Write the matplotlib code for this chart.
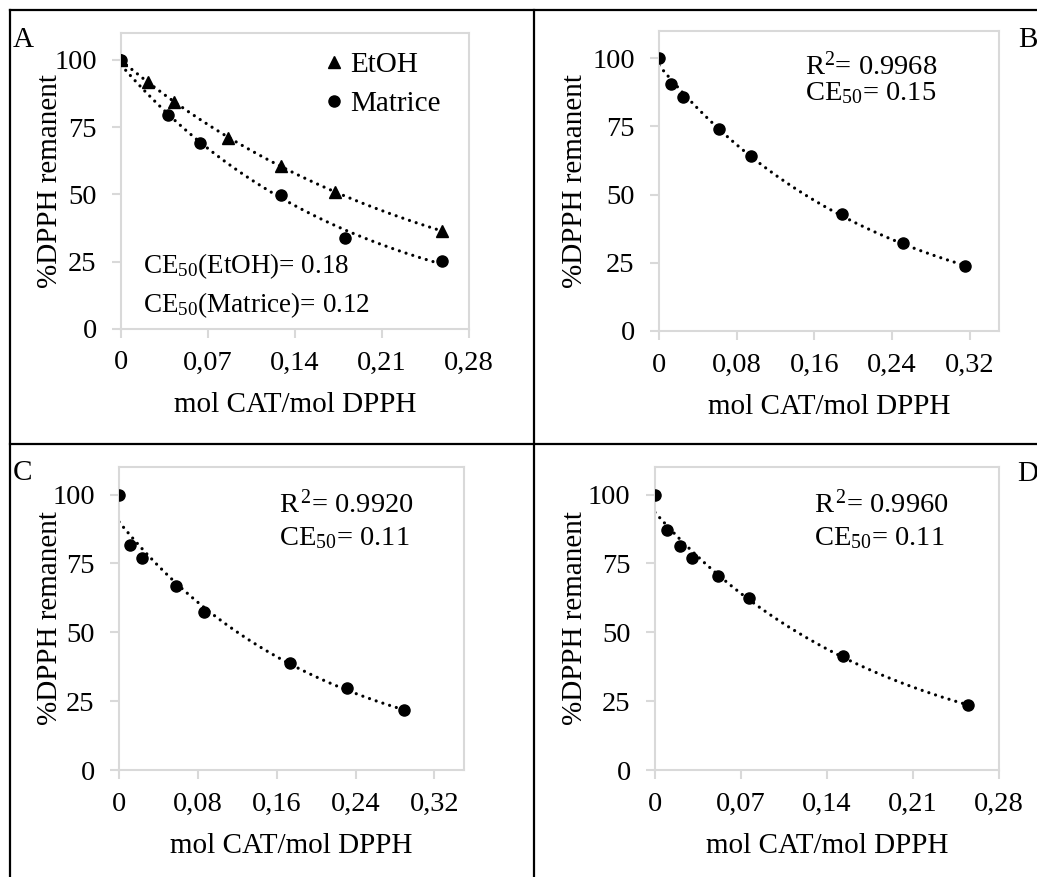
import numpy as np
import matplotlib
matplotlib.use("Agg")
import matplotlib.pyplot as plt
from matplotlib.lines import Line2D
from matplotlib.ticker import FuncFormatter, MultipleLocator

plt.rcParams['font.family'] = ['Liberation Serif', 'DejaVu Serif']
plt.rcParams['mathtext.fontset'] = 'custom'
plt.rcParams['mathtext.rm'] = 'Liberation Serif'
plt.rcParams['mathtext.it'] = 'Liberation Serif:italic'

# panel A: EtOH (triangles) and Matrice (circles)
a_etoh_x = [0, 0.022, 0.0426, 0.0863, 0.129, 0.172, 0.258]
a_etoh_y = [100, 91.7, 84.3, 71.0, 60.6, 50.8, 36.5]
a_mat_x = [0, 0.038, 0.0635, 0.129, 0.180, 0.258]
a_mat_y = [100, 79.6, 69.2, 49.7, 33.9, 25.3]

# panels B, C, D
b_x = [0, 0.012, 0.0244, 0.062, 0.0943, 0.188, 0.251, 0.3145]
b_y = [100, 90.6, 85.8, 74.1, 64.0, 42.9, 32.1, 23.8]
c_x = [0, 0.0115, 0.0233, 0.0581, 0.0865, 0.1737, 0.2312, 0.2886]
c_y = [100, 81.6, 77.0, 66.7, 57.4, 38.7, 29.6, 21.8]
d_x = [0, 0.010, 0.0203, 0.0304, 0.051, 0.0764, 0.1532, 0.2548]
d_y = [100, 87.1, 81.4, 77.0, 70.4, 62.3, 41.4, 23.6]

GRAY = '#d9d9d9'
FS_TICK = 20.5
FS_LAB = 21
FS_NOTE = 19.5


def comma_fmt(v, pos):
    if abs(v) < 1e-9:
        return '0'
    return f'{v:.2f}'.replace('.', ',')


def exp_trend(ax, x, y):
    # excel-style exponential trendline
    x = np.asarray(x)
    y = np.asarray(y)
    b, ln_a = np.polyfit(x, np.log(y), 1)
    xs = np.linspace(0, x.max(), 200)
    ax.plot(xs, np.exp(ln_a) * np.exp(b * xs), color='black', lw=2.3,
            linestyle=(0, (0.01, 2.2)), dash_capstyle='round', zorder=2)


def style_axes(ax, xmax, xstep, ylab_x):
    ax.set_xlim(0, xmax)
    ax.set_ylim(0, 110)
    ax.xaxis.set_major_locator(MultipleLocator(xstep))
    ax.set_yticks([0, 25, 50, 75, 100])
    ax.xaxis.set_major_formatter(FuncFormatter(comma_fmt))
    for s in ax.spines.values():
        s.set_color(GRAY)
        s.set_linewidth(1.5)
    ax.tick_params(direction='out', length=6.5, width=1.5, color=GRAY,
                   labelsize=FS_TICK)
    ax.tick_params(axis='y', pad=11)
    ax.tick_params(axis='x', pad=9)
    ax.set_xlabel('mol CAT/mol DPPH', fontsize=FS_LAB, labelpad=12)
    ax.set_ylabel('%DPPH remanent', fontsize=FS_LAB)
    ax.yaxis.set_label_coords(ylab_x, 0.5)


fig = plt.figure(figsize=(10.37, 8.77), dpi=100)

axA = fig.add_axes([0.1167, 0.6249, 0.3356, 0.3375])
axB = fig.add_axes([0.6355, 0.6226, 0.3279, 0.3421])
axC = fig.add_axes([0.1148, 0.1220, 0.3327, 0.3455])
axD = fig.add_axes([0.6316, 0.1220, 0.3317, 0.3455])

# A
exp_trend(axA, a_etoh_x, a_etoh_y)
exp_trend(axA, a_mat_x, a_mat_y)
axA.plot(a_etoh_x, a_etoh_y, '^', color='black', ms=8.5, zorder=3, label='EtOH')
axA.plot(a_mat_x, a_mat_y, 'o', color='black', ms=8, zorder=3, label='Matrice')
style_axes(axA, 0.28, 0.07, -0.166)
axA.legend(loc='upper right', bbox_to_anchor=(0.978, 1.005), frameon=False,
           fontsize=FS_LAB, handlelength=0.5, handletextpad=0.3, labelspacing=0.42,
           borderaxespad=0.3)
axA.text(0.063, 0.19, r'CE$_{50}$(EtOH)= 0.18', transform=axA.transAxes, fontsize=FS_NOTE)
axA.text(0.063, 0.057, r'CE$_{50}$(Matrice)= 0.12', transform=axA.transAxes, fontsize=FS_NOTE)

# B
exp_trend(axB, b_x, b_y)
axB.plot(b_x, b_y, 'o', color='black', ms=8, zorder=3)
style_axes(axB, 0.35, 0.08, -0.21)
axB.text(0.43, 0.853, r'R$^{2}$= 0.9968', transform=axB.transAxes, fontsize=20.5)
axB.text(0.43, 0.77, r'CE$_{50}$= 0.15', transform=axB.transAxes, fontsize=20.5)

# C
exp_trend(axC, c_x, c_y)
axC.plot(c_x, c_y, 'o', color='black', ms=8, zorder=3)
style_axes(axC, 0.35, 0.08, -0.162)
axC.text(0.464, 0.85, r'R$^{\,2}$= 0.9920', transform=axC.transAxes, fontsize=20.5)
axC.text(0.464, 0.743, r'CE$_{50}$= 0.11', transform=axC.transAxes, fontsize=20.5)

# D
exp_trend(axD, d_x, d_y)
axD.plot(d_x, d_y, 'o', color='black', ms=8, zorder=3)
style_axes(axD, 0.28, 0.07, -0.195)
axD.text(0.462, 0.85, r'R$^{\,2}$= 0.9960', transform=axD.transAxes, fontsize=20.5)
axD.text(0.462, 0.743, r'CE$_{50}$= 0.11', transform=axD.transAxes, fontsize=20.5)

# panel letters
fig.text(0.012, 0.9464, 'A', fontsize=FS_LAB)
fig.text(0.982, 0.9464, 'B', fontsize=FS_LAB)
fig.text(0.012, 0.4527, 'C', fontsize=FS_LAB)
fig.text(0.981, 0.4515, 'D', fontsize=FS_LAB)

# table frame lines
for xs, ys in [([0.0096, 0.0096], [0.0, 0.9886]),
               ([0.0096, 1.0], [0.9886, 0.9886]),
               ([0.5152, 0.5152], [0.0, 0.9886]),
               ([0.0096, 1.0], [0.4941, 0.4941])]:
    fig.add_artist(Line2D(xs, ys, color='black', lw=1.6, transform=fig.transFigure))

fig.savefig('out.png', dpi=100)
